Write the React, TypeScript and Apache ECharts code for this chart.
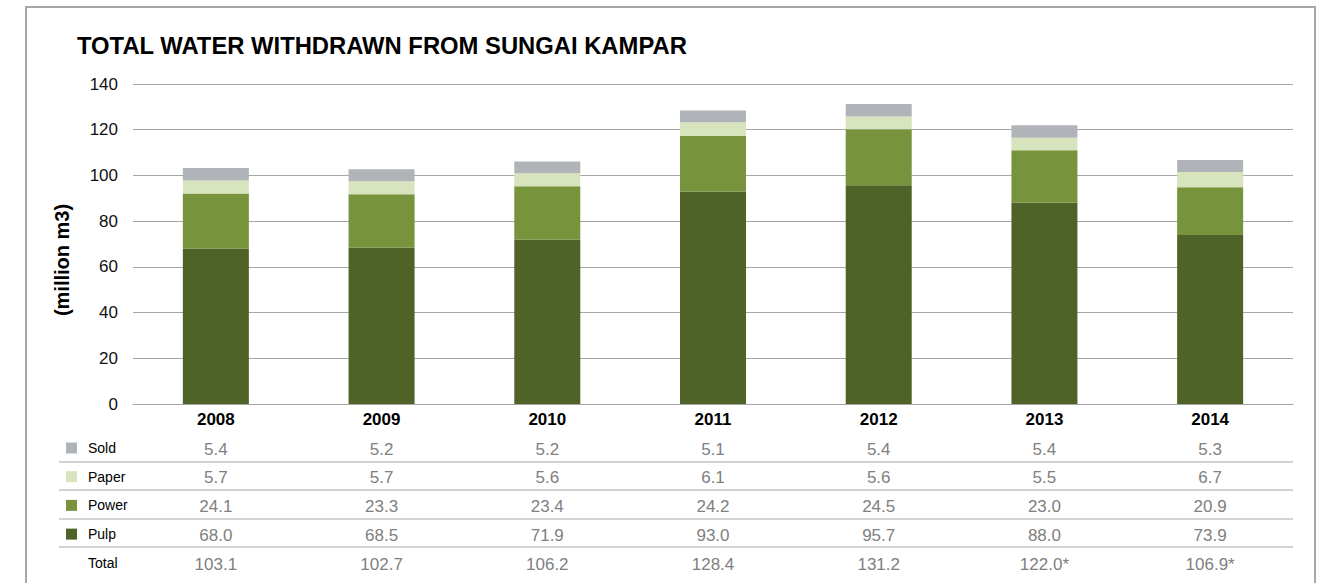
import React, { useEffect, useRef } from "react";
import * as echarts from "echarts";

const years = ["2008", "2009", "2010", "2011", "2012", "2013", "2014"];
const pulp = [68.0, 68.5, 71.9, 93.0, 95.7, 88.0, 73.9];
const power = [24.1, 23.3, 23.4, 24.2, 24.5, 23.0, 20.9];
const paper = [5.7, 5.7, 5.6, 6.1, 5.6, 5.5, 6.7];
const sold = [5.4, 5.2, 5.2, 5.1, 5.4, 5.4, 5.3];
const totals = ["103.1", "102.7", "106.2", "128.4", "131.2", "122.0*", "106.9*"];
const yTicks = { min: 0, max: 140, interval: 20 };

const FONT = "'Liberation Sans', Arial, sans-serif";
const colors = { Pulp: "#4f6228", Power: "#77933c", Paper: "#d7e4bd", Sold: "#b0b3b7" };

export default function App() {
  const ref = useRef<HTMLDivElement>(null);
  useEffect(() => {
    if (!ref.current) return;
    const chart = echarts.init(ref.current, null, { renderer: "svg" });
    const gridBottomY = 404;
    const rowAxis = (data: string[], centerY: number, fs: number, bold: boolean, color: string) => ({
      type: "category",
      gridIndex: 0,
      position: "bottom",
      data,
      offset: centerY - gridBottomY - fs / 2,
      axisLine: { show: false },
      axisTick: { show: false },
      splitLine: { show: false },
      axisLabel: {
        interval: 0,
        margin: 0,
        fontSize: fs,
        lineHeight: fs,
        fontWeight: bold ? "bold" : "normal",
        color,
        fontFamily: FONT,
      },
    });
    const fmt = (a: number[]) => a.map((v) => v.toFixed(1));
    const valueColor = "#808080";
    const sepYs = [462, 490, 519, 547];
    chart.setOption({
      animation: false,
      title: {
        text: "TOTAL WATER WITHDRAWN FROM SUNGAI KAMPAR",
        left: 77,
        top: 33,
        padding: 0,
        textStyle: { fontSize: 23.8, fontWeight: "bold", color: "#000", fontFamily: FONT },
      },
      legend: {
        orient: "vertical",
        left: 66,
        top: 441,
        padding: 0,
        itemWidth: 11,
        itemHeight: 11,
        itemGap: 14.7,
        icon: "rect",
        data: ["Sold", "Paper", "Power", "Pulp"],
        textStyle: { fontSize: 14, lineHeight: 14, color: "#000", fontFamily: FONT, padding: [0, 0, 0, 6] },
      },
      grid: { left: 133, right: 36, top: 84, bottom: 583 - gridBottomY },
      xAxis: [
        {
          type: "category",
          data: years,
          axisLine: { show: true, lineStyle: { color: "#a6a6a6", width: 1 } },
          axisTick: { show: false },
          axisLabel: { interval: 0, margin: 7, fontSize: 17, fontWeight: "bold", color: "#000", fontFamily: FONT },
        },
        rowAxis(fmt(sold), 449, 17, false, valueColor),
        rowAxis(fmt(paper), 477, 17, false, valueColor),
        rowAxis(fmt(power), 506, 17, false, valueColor),
        rowAxis(fmt(pulp), 535, 17, false, valueColor),
        rowAxis(totals, 564, 17, false, valueColor),
      ],
      yAxis: {
        type: "value",
        min: yTicks.min,
        max: yTicks.max,
        interval: yTicks.interval,
        axisLine: { show: false },
        axisTick: { show: false },
        axisLabel: { margin: 15, fontSize: 17, color: "#111", fontFamily: FONT },
        splitLine: { lineStyle: { color: "#a6a6a6", width: 1 } },
      },
      series: [
        { name: "Pulp", type: "bar", stack: "t", barWidth: 66, data: pulp, itemStyle: { color: colors.Pulp } },
        { name: "Power", type: "bar", stack: "t", barWidth: 66, data: power, itemStyle: { color: colors.Power } },
        { name: "Paper", type: "bar", stack: "t", barWidth: 66, data: paper, itemStyle: { color: colors.Paper } },
        { name: "Sold", type: "bar", stack: "t", barWidth: 66, data: sold, itemStyle: { color: colors.Sold } },
      ],
      graphic: [
        {
          type: "rect",
          shape: { x: 26, y: 7, width: 1289, height: 620 },
          style: { fill: "none", stroke: "#a6a6a6", lineWidth: 2 },
          silent: true,
        },
        ...sepYs.map((y) => ({
          type: "line",
          shape: { x1: 59, y1: y, x2: 1293, y2: y },
          style: { stroke: "#a6a6a6", lineWidth: 1 },
          silent: true,
        })),
        {
          type: "text",
          x: 88,
          y: 563,
          style: { text: "Total", fontSize: 14, fill: "#000", fontFamily: FONT, verticalAlign: "middle" },
        },
        {
          type: "text",
          x: 62,
          y: 260,
          rotation: Math.PI / 2,
          style: {
            text: "(million m3)",
            fontSize: 20,
            fontWeight: "bold",
            fill: "#000",
            fontFamily: FONT,
            align: "center",
            verticalAlign: "middle",
          },
        },
      ],
    });
    return () => chart.dispose();
  }, []);
  return (
    <div
      ref={ref}
      style={{ position: "absolute", left: 0, top: 0, width: 1329, height: 583, background: "#fff" }}
    />
  );
}
